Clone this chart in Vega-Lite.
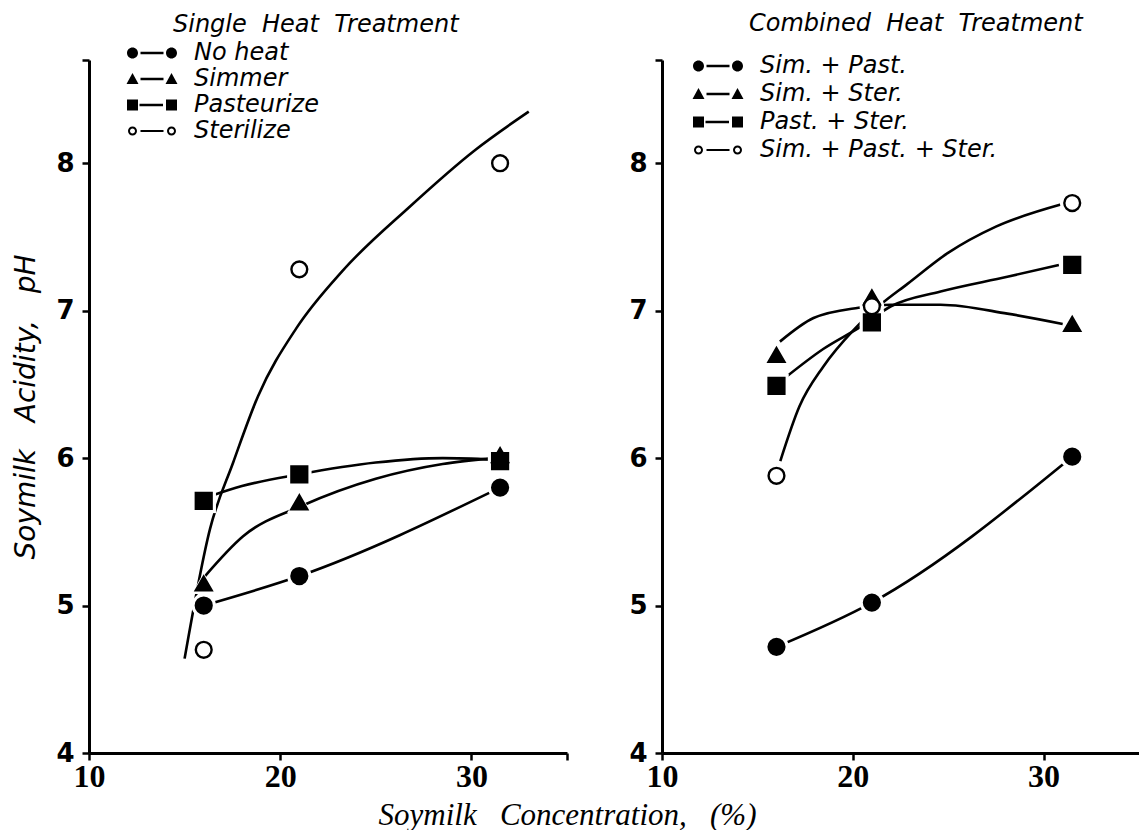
{
  "$schema": "https://vega.github.io/schema/vega-lite/v6.json",
  "background": "white",
  "padding": {"left": 12, "top": 12, "right": 0, "bottom": 0},
  "bounds": "flush",
  "spacing": 95,
  "resolve": {"legend": {"shape": "independent", "fill": "independent"}, "scale": {"shape": "independent", "fill": "independent"}},
  "datasets": {
    "single_pts": [
      {"treatment": "No heat", "conc": 16, "ph": 5.0},
      {"treatment": "No heat", "conc": 21, "ph": 5.2},
      {"treatment": "No heat", "conc": 31.5, "ph": 5.8},
      {"treatment": "Simmer", "conc": 16, "ph": 5.15},
      {"treatment": "Simmer", "conc": 21, "ph": 5.7},
      {"treatment": "Simmer", "conc": 31.5, "ph": 6.02},
      {"treatment": "Pasteurize", "conc": 16, "ph": 5.71},
      {"treatment": "Pasteurize", "conc": 21, "ph": 5.89},
      {"treatment": "Pasteurize", "conc": 31.5, "ph": 5.98},
      {"treatment": "Sterilize", "conc": 16, "ph": 4.7},
      {"treatment": "Sterilize", "conc": 21, "ph": 7.28},
      {"treatment": "Sterilize", "conc": 31.5, "ph": 8.0}
    ],
    "single_curves": [
      {"treatment": "No heat", "conc": 16, "ph": 5.0},
      {"treatment": "No heat", "conc": 21, "ph": 5.2},
      {"treatment": "No heat", "conc": 31.5, "ph": 5.8},
      {"treatment": "Simmer", "conc": 16.07, "ph": 5.2},
      {"treatment": "Simmer", "conc": 18.06, "ph": 5.47},
      {"treatment": "Simmer", "conc": 21.2, "ph": 5.68},
      {"treatment": "Simmer", "conc": 25.0, "ph": 5.86},
      {"treatment": "Simmer", "conc": 28.5, "ph": 5.96},
      {"treatment": "Simmer", "conc": 31.2, "ph": 6.0},
      {"treatment": "Pasteurize", "conc": 16.3, "ph": 5.74},
      {"treatment": "Pasteurize", "conc": 18.0, "ph": 5.81},
      {"treatment": "Pasteurize", "conc": 21.0, "ph": 5.89},
      {"treatment": "Pasteurize", "conc": 25.0, "ph": 5.97},
      {"treatment": "Pasteurize", "conc": 28.5, "ph": 6.0},
      {"treatment": "Pasteurize", "conc": 31.2, "ph": 5.99},
      {"treatment": "Sterilize", "conc": 15.0, "ph": 4.64},
      {"treatment": "Sterilize", "conc": 16.33, "ph": 5.52},
      {"treatment": "Sterilize", "conc": 17.54, "ph": 5.97},
      {"treatment": "Sterilize", "conc": 18.84, "ph": 6.42},
      {"treatment": "Sterilize", "conc": 20.84, "ph": 6.88},
      {"treatment": "Sterilize", "conc": 23.26, "ph": 7.27},
      {"treatment": "Sterilize", "conc": 26.73, "ph": 7.7},
      {"treatment": "Sterilize", "conc": 30.2, "ph": 8.09},
      {"treatment": "Sterilize", "conc": 33.0, "ph": 8.35}
    ],
    "combined_pts": [
      {"treatment": "Sim. + Past.", "conc": 16, "ph": 4.72},
      {"treatment": "Sim. + Past.", "conc": 21, "ph": 5.02},
      {"treatment": "Sim. + Past.", "conc": 31.5, "ph": 6.01},
      {"treatment": "Sim. + Ster.", "conc": 16, "ph": 6.7},
      {"treatment": "Sim. + Ster.", "conc": 21, "ph": 7.09},
      {"treatment": "Sim. + Ster.", "conc": 31.5, "ph": 6.91},
      {"treatment": "Past. + Ster.", "conc": 16, "ph": 6.49},
      {"treatment": "Past. + Ster.", "conc": 21, "ph": 6.92},
      {"treatment": "Past. + Ster.", "conc": 31.5, "ph": 7.31},
      {"treatment": "Sim. + Past. + Ster.", "conc": 16, "ph": 5.88},
      {"treatment": "Sim. + Past. + Ster.", "conc": 21, "ph": 7.03},
      {"treatment": "Sim. + Past. + Ster.", "conc": 31.5, "ph": 7.73}
    ],
    "combined_curves": [
      {"treatment": "Sim. + Past.", "conc": 16, "ph": 4.72},
      {"treatment": "Sim. + Past.", "conc": 21, "ph": 5.02},
      {"treatment": "Sim. + Past.", "conc": 31.5, "ph": 6.01},
      {"treatment": "Sim. + Ster.", "conc": 16.18, "ph": 6.79},
      {"treatment": "Sim. + Ster.", "conc": 17.94, "ph": 6.95},
      {"treatment": "Sim. + Ster.", "conc": 20.3, "ph": 7.02},
      {"treatment": "Sim. + Ster.", "conc": 22.0, "ph": 7.04},
      {"treatment": "Sim. + Ster.", "conc": 24.6, "ph": 7.04},
      {"treatment": "Sim. + Ster.", "conc": 28.1, "ph": 6.98},
      {"treatment": "Sim. + Ster.", "conc": 31.0, "ph": 6.91},
      {"treatment": "Past. + Ster.", "conc": 16.5, "ph": 6.55},
      {"treatment": "Past. + Ster.", "conc": 18.45, "ph": 6.74},
      {"treatment": "Past. + Ster.", "conc": 20.4, "ph": 6.89},
      {"treatment": "Past. + Ster.", "conc": 22.0, "ph": 7.03},
      {"treatment": "Past. + Ster.", "conc": 24.6, "ph": 7.13},
      {"treatment": "Past. + Ster.", "conc": 28.1, "ph": 7.23},
      {"treatment": "Past. + Ster.", "conc": 30.8, "ph": 7.31},
      {"treatment": "Sim. + Past. + Ster.", "conc": 16.2, "ph": 5.98},
      {"treatment": "Sim. + Past. + Ster.", "conc": 17.2, "ph": 6.35},
      {"treatment": "Sim. + Past. + Ster.", "conc": 18.45, "ph": 6.62},
      {"treatment": "Sim. + Past. + Ster.", "conc": 20.05, "ph": 6.87},
      {"treatment": "Sim. + Past. + Ster.", "conc": 21.45, "ph": 7.04},
      {"treatment": "Sim. + Past. + Ster.", "conc": 22.85, "ph": 7.18},
      {"treatment": "Sim. + Past. + Ster.", "conc": 24.97, "ph": 7.39},
      {"treatment": "Sim. + Past. + Ster.", "conc": 27.5, "ph": 7.57},
      {"treatment": "Sim. + Past. + Ster.", "conc": 30.9, "ph": 7.72}
    ]
  },
  "config": {
    "font": "DejaVu Sans",
    "view": {"stroke": null},
    "axis": {
      "grid": false,
      "domainColor": "black",
      "domainWidth": 3,
      "tickColor": "black",
      "tickWidth": 2.5,
      "tickSize": 7,
      "labelColor": "black",
      "titleColor": "black"
    },
    "legend": {
      "orient": "none",
      "title": null,
      "padding": 0,
      "labelFont": "DejaVu Sans",
      "labelFontStyle": "italic",
      "labelFontSize": 24,
      "labelColor": "black",
      "labelLimit": 400,
      "symbolSize": 400,
      "symbolOpacity": 1,
      "symbolOffset": 15,
      "labelOffset": 30,
      "rowPadding": 2
    },
    "title": {"font": "DejaVu Sans", "fontStyle": "italic", "fontWeight": "normal", "fontSize": 24, "color": "black", "anchor": "start", "frame": "group"}
  },
  "hconcat": [
    {
      "width": 478,
      "height": 693,
      "title": {"text": "Single\u00a0\u00a0Heat\u00a0\u00a0Treatment", "dx": 84, "offset": 4},
      "resolve": {"scale": {"shape": "independent"}, "legend": {"shape": "independent"}},
      "layer": [
        {
          "data": {"name": "single_curves"},
          "mark": {"type": "line", "interpolate": "monotone", "color": "black", "strokeWidth": 2.6},
          "encoding": {
            "x": {"field": "conc", "type": "quantitative", "scale": {"domain": [10, 35], "nice": false},
              "axis": {"values": [10, 20, 30, 35], "labelExpr": "datum.value == 35 ? '' : datum.label", "labelFlush": false,
                "labelFont": "Liberation Sans Narrow", "labelFontWeight": "bold", "labelFontSize": 32, "labelPadding": 1,
                "title": "Soymilk\u00a0\u00a0\u00a0Concentration,\u00a0\u00a0\u00a0(%)", "titleFont": "Liberation Sans Narrow", "titleFontStyle": "italic", "titleFontWeight": "normal", "titleFontSize": 31,
                "titleX": 478, "titleY": 71, "titleAlign": "center", "titleBaseline": "alphabetic"}},
            "y": {"field": "ph", "type": "quantitative", "scale": {"domain": [4, 8.7], "nice": false, "zero": false},
              "axis": {"values": [4, 5, 6, 7, 8, 8.7], "labelExpr": "datum.value > 8.5 ? '' : format(datum.value, 'd')",
                "labelFont": "DejaVu Sans", "labelFontWeight": "bold", "labelFontSize": 26, "labelPadding": 8,
                "title": "Soymilk\u00a0\u00a0\u00a0Acidity,\u00a0\u00a0\u00a0pH", "titleFont": "DejaVu Sans", "titleFontStyle": "italic", "titleFontWeight": "normal", "titleFontSize": 28, "titlePadding": 15}},
            "detail": {"field": "treatment"}
          }
        },
        {
          "data": {"name": "single_pts"},
          "mark": {"type": "point", "filled": true, "size": 600, "color": "white", "opacity": 1},
          "encoding": {
            "x": {"field": "conc", "type": "quantitative"},
            "y": {"field": "ph", "type": "quantitative"},
            "shape": {"field": "treatment", "type": "nominal", "legend": null,
              "scale": {"domain": ["No heat", "Simmer", "Pasteurize", "Sterilize"], "range": ["circle", "triangle-up", "square", "circle"]}}
          }
        },
        {
          "data": {"name": "single_pts"},
          "mark": {"type": "point", "size": 250, "stroke": "black", "strokeWidth": 2.4, "opacity": 1},
          "encoding": {
            "x": {"field": "conc", "type": "quantitative"},
            "y": {"field": "ph", "type": "quantitative"},
            "fill": {"field": "treatment", "type": "nominal", "legend": null,
              "scale": {"domain": ["No heat", "Simmer", "Pasteurize", "Sterilize"], "range": ["black", "black", "black", "white"]}},
            "shape": {"field": "treatment", "type": "nominal", "legend": null,
              "scale": {"domain": ["No heat", "Simmer", "Pasteurize", "Sterilize"], "range": ["circle", "triangle-up", "square", "circle"]}}
          }
        },
        {
          "data": {"name": "single_pts"},
          "mark": {"type": "point", "filled": true, "color": "black", "size": 400, "opacity": 0},
          "encoding": {
            "x": {"field": "conc", "type": "quantitative"},
            "y": {"field": "ph", "type": "quantitative"},
            "shape": {"field": "treatment", "type": "nominal",
              "scale": {"domain": ["No heat", "Simmer", "Pasteurize", "Sterilize"],
                "range": [
                  "M-2.5,0a0.55,0.55 0 1,1 1.1,0a0.55,0.55 0 1,1 -1.1,0Z M1.4,0a0.55,0.55 0 1,1 1.1,0a0.55,0.55 0 1,1 -1.1,0Z M-1.15,-0.13H1.15V0.13H-1.15Z",
                  "M-1.95,-0.6L-1.35,0.5L-2.55,0.5Z M1.95,-0.6L2.55,0.5L1.35,0.5Z M-1.15,-0.13H1.15V0.13H-1.15Z",
                  "M-2.5,-0.55H-1.4V0.55H-2.5Z M1.4,-0.55H2.5V0.55H1.4Z M-1.25,-0.13H1.1V0.13H-1.25Z",
                  "M-2.4,0a0.45,0.45 0 1,1 0.9,0a0.45,0.45 0 1,1 -0.9,0Z M-2.2,0a0.25,0.25 0 1,0 0.5,0a0.25,0.25 0 1,0 -0.5,0Z M1.5,0a0.45,0.45 0 1,1 0.9,0a0.45,0.45 0 1,1 -0.9,0Z M1.7,0a0.25,0.25 0 1,0 0.5,0a0.25,0.25 0 1,0 -0.5,0Z M-1.15,-0.1H1.15V0.1H-1.15Z"
                ]},
              "legend": {"legendX": 36, "legendY": -19}
            }
          }
        }
      ]
    },
    {
      "width": 477,
      "height": 693,
      "title": {"text": "Combined\u00a0\u00a0Heat\u00a0\u00a0Treatment", "dx": 87, "offset": 18},
      "resolve": {"scale": {"shape": "independent"}, "legend": {"shape": "independent"}},
      "layer": [
        {
          "data": {"name": "combined_curves"},
          "mark": {"type": "line", "interpolate": "monotone", "color": "black", "strokeWidth": 2.6},
          "encoding": {
            "x": {"field": "conc", "type": "quantitative", "scale": {"domain": [10, 35], "nice": false},
              "axis": {"values": [10, 20, 30], "labelFlush": false, "labelFont": "Liberation Sans Narrow", "labelFontWeight": "bold", "labelFontSize": 32, "labelPadding": 1, "title": null}},
            "y": {"field": "ph", "type": "quantitative", "scale": {"domain": [4, 8.7], "nice": false, "zero": false},
              "axis": {"values": [4, 5, 6, 7, 8, 8.7], "labelExpr": "datum.value > 8.5 ? '' : format(datum.value, 'd')",
                "labelFont": "DejaVu Sans", "labelFontWeight": "bold", "labelFontSize": 26, "labelPadding": 8, "title": null}},
            "detail": {"field": "treatment"}
          }
        },
        {
          "data": {"name": "combined_pts"},
          "mark": {"type": "point", "filled": true, "size": 600, "color": "white", "opacity": 1},
          "encoding": {
            "x": {"field": "conc", "type": "quantitative"},
            "y": {"field": "ph", "type": "quantitative"},
            "shape": {"field": "treatment", "type": "nominal", "legend": null,
              "scale": {"domain": ["Sim. + Past.", "Sim. + Ster.", "Past. + Ster.", "Sim. + Past. + Ster."], "range": ["circle", "triangle-up", "square", "circle"]}}
          }
        },
        {
          "data": {"name": "combined_pts"},
          "mark": {"type": "point", "size": 250, "stroke": "black", "strokeWidth": 2.4, "opacity": 1},
          "encoding": {
            "x": {"field": "conc", "type": "quantitative"},
            "y": {"field": "ph", "type": "quantitative"},
            "fill": {"field": "treatment", "type": "nominal", "legend": null,
              "scale": {"domain": ["Sim. + Past.", "Sim. + Ster.", "Past. + Ster.", "Sim. + Past. + Ster."], "range": ["black", "black", "black", "white"]}},
            "shape": {"field": "treatment", "type": "nominal", "legend": null,
              "scale": {"domain": ["Sim. + Past.", "Sim. + Ster.", "Past. + Ster.", "Sim. + Past. + Ster."], "range": ["circle", "triangle-up", "square", "circle"]}}
          }
        },
        {
          "data": {"name": "combined_pts"},
          "mark": {"type": "point", "filled": true, "color": "black", "size": 400, "opacity": 0},
          "encoding": {
            "x": {"field": "conc", "type": "quantitative"},
            "y": {"field": "ph", "type": "quantitative"},
            "shape": {"field": "treatment", "type": "nominal",
              "scale": {"domain": ["Sim. + Past.", "Sim. + Ster.", "Past. + Ster.", "Sim. + Past. + Ster."],
                "range": [
                  "M-2.5,0a0.55,0.55 0 1,1 1.1,0a0.55,0.55 0 1,1 -1.1,0Z M1.4,0a0.55,0.55 0 1,1 1.1,0a0.55,0.55 0 1,1 -1.1,0Z M-1.15,-0.13H1.15V0.13H-1.15Z",
                  "M-1.95,-0.6L-1.35,0.5L-2.55,0.5Z M1.95,-0.6L2.55,0.5L1.35,0.5Z M-1.15,-0.13H1.15V0.13H-1.15Z",
                  "M-2.5,-0.55H-1.4V0.55H-2.5Z M1.4,-0.55H2.5V0.55H1.4Z M-1.25,-0.13H1.1V0.13H-1.25Z",
                  "M-2.4,0a0.45,0.45 0 1,1 0.9,0a0.45,0.45 0 1,1 -0.9,0Z M-2.2,0a0.25,0.25 0 1,0 0.5,0a0.25,0.25 0 1,0 -0.5,0Z M1.5,0a0.45,0.45 0 1,1 0.9,0a0.45,0.45 0 1,1 -0.9,0Z M1.7,0a0.25,0.25 0 1,0 0.5,0a0.25,0.25 0 1,0 -0.5,0Z M-1.15,-0.1H1.15V0.1H-1.15Z"
                ]},
              "legend": {"legendX": 29, "legendY": -6, "rowPadding": 4}
            }
          }
        }
      ]
    }
  ]
}
